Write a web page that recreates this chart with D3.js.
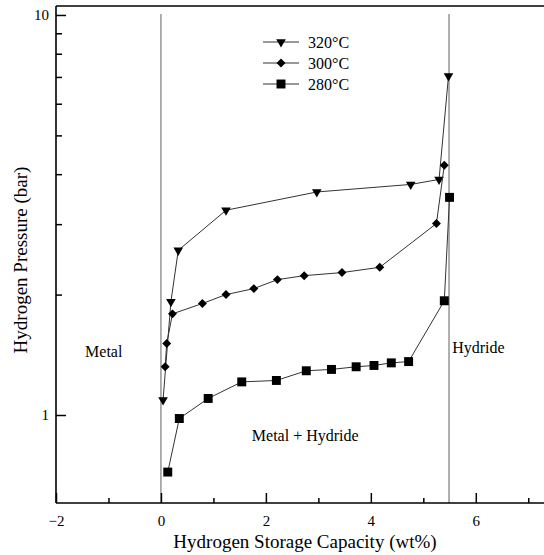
<!DOCTYPE html>
<html>
<head>
<meta charset="utf-8">
<script src="https://cdn.jsdelivr.net/npm/d3@7"></script>
<style>
body { margin: 0; background: #fff; }
svg text { font-family: "Liberation Serif", "Times New Roman", serif; fill: #000; }
</style>
</head>
<body>
<svg id="chart" width="544" height="555"></svg>
<script>
/* dados */
var cap320 = [0.04, 0.19, 0.33, 1.24, 2.97, 4.76, 5.30, 5.48];
var p320   = [1.09, 1.92, 2.58, 3.25, 3.61, 3.77, 3.88, 7.04];

var cap300 = [0.08, 0.11, 0.22, 0.79, 1.24, 1.77, 2.22, 2.73, 3.45, 4.17, 5.25, 5.40];
var p300   = [1.32, 1.51, 1.79, 1.90, 2.00, 2.07, 2.18, 2.23, 2.27, 2.34, 3.01, 4.21];

var cap280 = [0.13, 0.35, 0.90, 1.54, 2.20, 2.77, 3.25, 3.72, 4.06, 4.39, 4.72, 5.40, 5.50];
var p280   = [0.72, 0.98, 1.10, 1.21, 1.22, 1.29, 1.30, 1.32, 1.33, 1.35, 1.36, 1.93, 3.50];

var seriesNames = ["320\u00B0C", "300\u00B0C", "280\u00B0C"];
var xMajorTicks = [-2, 0, 2, 4, 6];
var xMinorTicks = [-1, 1, 3, 5, 7];
var yMajorTicks = [1, 10];
var yMinorTicks = [2, 3, 4, 5, 6, 7, 8, 9];
var phaseLines = [0, 5.49];
var regionLabels = [
    {text: "Metal", x: -1.09, y: 1.40},
    {text: "Hydride", x: 6.05, y: 1.43},
    {text: "Metal + Hydride", x: 2.75, y: 0.86}
];

var svg = d3.select("#chart");
var mLeft = 56, mRight = 544, mTop = 6, mBottom = 503;

var x = d3.scaleLinear().domain([-2, 7.3]).range([mLeft, mRight]);
var y = d3.scaleLog().domain([0.6026, 10.53]).range([mBottom, mTop]);

/*linhas verticais de fase*/
svg.selectAll(".fase").data(phaseLines).enter().append("line")
    .attr("x1", function(d){return x(d);})
    .attr("x2", function(d){return x(d);})
    .attr("y1", y(10) - 1)
    .attr("y2", mBottom)
    .attr("stroke", "#7a7a7a")
    .attr("stroke-width", 1.2);

/*eixo x (ticks para dentro)*/
var xAxis = svg.append("g").attr("transform", "translate(0," + mBottom + ")")
    .call(d3.axisBottom(x).tickValues(xMajorTicks).tickSize(-10).tickPadding(12)
        .tickFormat(function(d){return d < 0 ? "\u2212" + Math.abs(d) : d;}));
svg.append("g").attr("transform", "translate(0," + mBottom + ")")
    .call(d3.axisBottom(x).tickValues(xMinorTicks).tickSize(-5).tickFormat(""))
    .select(".domain").remove();
xAxis.select(".domain").attr("d", "M" + mLeft + ",0H" + mRight);

/*eixo y log*/
var yAxis = svg.append("g").attr("transform", "translate(" + mLeft + ",0)")
    .call(d3.axisLeft(y).tickValues(yMajorTicks).tickSize(-10).tickPadding(7)
        .tickFormat(d3.format("d")));
svg.append("g").attr("transform", "translate(" + mLeft + ",0)")
    .call(d3.axisLeft(y).tickValues(yMinorTicks).tickSize(-6).tickFormat(""))
    .select(".domain").remove();
yAxis.select(".domain").attr("d", "M0," + mTop + "V" + mBottom);

svg.selectAll(".domain").attr("stroke", "#000").attr("stroke-width", 1.6);
svg.selectAll(".tick line").attr("stroke", "#000").attr("stroke-width", 1.5);
svg.selectAll(".tick text").style("font-size", "15px");

/*borda de cima*/
svg.append("line").attr("x1", mLeft).attr("x2", mRight).attr("y1", mTop).attr("y2", mTop)
    .attr("stroke", "#000").attr("stroke-width", 1.6);

/*titulos*/
svg.append("text").attr("x", 305).attr("y", 548).attr("text-anchor", "middle")
    .style("font-size", "19px").text("Hydrogen Storage Capacity (wt%)");
svg.append("text").attr("transform", "translate(27,260) rotate(-90)")
    .attr("text-anchor", "middle").style("font-size", "19px").text("Hydrogen Pressure (bar)");

svg.selectAll(".regiao").data(regionLabels).enter().append("text")
    .attr("x", function(d){return x(d.x);})
    .attr("y", function(d){return y(d.y);})
    .attr("text-anchor", "middle")
    .style("font-size", "16px")
    .text(function(d){return d.text;});

/*series*/
var tri = d3.symbol().type(d3.symbolTriangle).size(40);
var dia = d3.symbol().type(d3.symbolSquare).size(40);
var sq = d3.symbol().type(d3.symbolSquare).size(80);

var series = [
    {name: seriesNames[0], xs: cap320, ys: p320, sym: tri, rot: 180},
    {name: seriesNames[1], xs: cap300, ys: p300, sym: dia, rot: 45},
    {name: seriesNames[2], xs: cap280, ys: p280, sym: sq, rot: 0}
];

var linha = d3.line().x(function(d){return x(d[0]);}).y(function(d){return y(d[1]);});

series.forEach(function(s){
    var pts = s.xs.map(function(v, i){return [v, s.ys[i]];});
    svg.append("path").datum(pts).attr("d", linha)
        .attr("fill", "none").attr("stroke", "#333").attr("stroke-width", 1);
    svg.selectAll(null).data(pts).enter().append("path")
        .attr("d", s.sym)
        .attr("transform", function(d){return "translate(" + x(d[0]) + "," + y(d[1]) + ") rotate(" + s.rot + ")";})
        .attr("fill", "#000");
});

/*legenda*/
var leg = svg.append("g").attr("transform", "translate(263,42)");
series.forEach(function(s, i){
    var g = leg.append("g").attr("transform", "translate(0," + (i * 21) + ")");
    g.append("line").attr("x1", 0).attr("x2", 36).attr("y1", 0).attr("y2", 0)
        .attr("stroke", "#333").attr("stroke-width", 1);
    g.append("path").attr("d", s.sym)
        .attr("transform", "translate(18,0) rotate(" + s.rot + ")").attr("fill", "#000");
    g.append("text").attr("x", 45).attr("y", 6).style("font-size", "16px").text(s.name);
});
</script>
</body>
</html>
